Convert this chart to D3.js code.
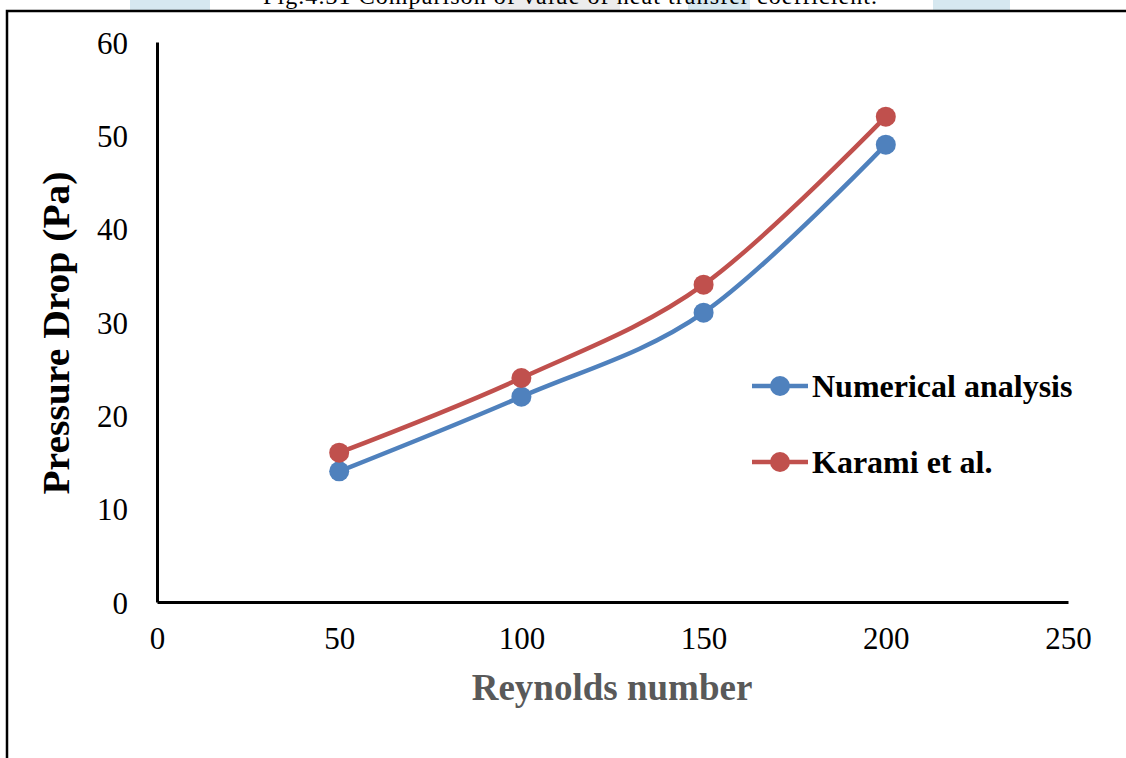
<!DOCTYPE html>
<html>
<head>
<meta charset="utf-8">
<script src="https://cdn.jsdelivr.net/npm/d3@7"></script>
<style>
  body { margin: 0; background: #fff; }
  svg text { font-family: "Liberation Serif", "Times New Roman", serif; }
  .axis path, .axis line { stroke: #000; }
</style>
</head>
<body>
<svg id="chart" width="1126" height="758"></svg>
<script>
// data
var reynolds = [50, 100, 150, 200];
var numerical = [14, 22, 31, 49];
var karami = [16, 24, 34, 52];
var xTicks = [0, 50, 100, 150, 200, 250];
var yTicks = [0, 10, 20, 30, 40, 50, 60];
var seriesNames = ["Numerical analysis", "Karami et al."];
var seriesColors = ["#4F81BD", "#C0504D"];

var svg = d3.select("#chart");

// faint page watermark bits peeking above the frame
var marks = [[130, 80, "#d6e8f0"], [500, 120, "#ececec"], [688, 62, "#d6e8f0"], [933, 77, "#d6e8f0"]];
svg.selectAll("rect.wm").data(marks).enter().append("rect")
  .attr("class", "wm")
  .attr("x", function (d) { return d[0]; })
  .attr("y", 0)
  .attr("width", function (d) { return d[1]; })
  .attr("height", 11)
  .attr("fill", function (d) { return d[2]; });

// caption of the page, cut by the top edge as in the scan
svg.append("text")
  .attr("x", 570).attr("y", 4)
  .attr("text-anchor", "middle")
  .attr("textLength", 614)
  .style("font-size", "24px")
  .text("Fig.4.31 Comparison of value of heat transfer coefficient.");

// frame
svg.append("path")
  .attr("d", "M7,758 L7,11 L1126,11")
  .attr("fill", "none")
  .attr("stroke", "#000")
  .attr("stroke-width", 2.5);

var margin = {left: 157, top: 42, right: 58, bottom: 156};
var width = 1126 - margin.left - margin.right;
var height = 758 - margin.top - margin.bottom;

var g = svg.append("g").attr("transform", "translate(" + margin.left + "," + margin.top + ")");

var x = d3.scaleLinear().domain([0, 250]).range([0, width]);
var y = d3.scaleLinear().domain([0, 60]).range([height, 0]);

var yAxis = g.append("g").attr("class", "axis")
  .call(d3.axisLeft(y).tickValues(yTicks).tickSize(0).tickPadding(29));
var xAxis = g.append("g").attr("class", "axis")
  .attr("transform", "translate(0," + height + ")")
  .call(d3.axisBottom(x).tickValues(xTicks).tickSize(0).tickPadding(25));

[yAxis, xAxis].forEach(function (a) {
  a.select(".domain").attr("stroke-width", 3);
  a.selectAll("text")
    .style("font-family", "Liberation Serif, serif")
    .style("font-size", "31px")
    .attr("fill", "#000");
});
yAxis.selectAll("text").attr("dy", "0.36em");
xAxis.selectAll("text").attr("dy", "0.71em");

// axis titles
svg.append("text")
  .attr("transform", "translate(69,333) rotate(-90) scale(1.07,1)")
  .attr("text-anchor", "middle")
  .style("font-size", "37px")
  .style("font-weight", "bold")
  .attr("fill", "#000")
  .text("Pressure Drop (Pa)");

svg.append("text")
  .attr("x", 612).attr("y", 700)
  .attr("text-anchor", "middle")
  .style("font-size", "37px")
  .style("font-weight", "bold")
  .attr("fill", "#595959")
  .text("Reynolds number");

// series
var series = [numerical, karami];
var line = d3.line()
  .x(function (d, i) { return x(reynolds[i]); })
  .y(function (d) { return y(d); })
  .curve(d3.curveCardinal.tension(0));

series.forEach(function (vals, s) {
  g.append("path")
    .datum(vals)
    .attr("d", line)
    .attr("fill", "none")
    .attr("stroke", seriesColors[s])
    .attr("stroke-width", 4.5);
  g.selectAll("circle.s" + s)
    .data(vals).enter().append("circle")
    .attr("class", "s" + s)
    .attr("cx", function (d, i) { return x(reynolds[i]); })
    .attr("cy", function (d) { return y(d); })
    .attr("r", 10)
    .attr("fill", seriesColors[s]);
});

// legend
var legend = svg.append("g").attr("transform", "translate(752,386)");
var item = legend.selectAll("g").data(seriesNames).enter().append("g")
  .attr("transform", function (d, i) { return "translate(0," + i * 76 + ")"; });
item.append("line")
  .attr("x1", 0).attr("x2", 56)
  .attr("stroke", function (d, i) { return seriesColors[i]; })
  .attr("stroke-width", 4.5);
item.append("circle")
  .attr("cx", 28).attr("r", 10)
  .attr("fill", function (d, i) { return seriesColors[i]; });
item.append("text")
  .attr("x", 60).attr("dy", "0.35em")
  .style("font-size", "32px")
  .style("font-weight", "bold")
  .text(function (d) { return d; });
</script>
</body>
</html>
